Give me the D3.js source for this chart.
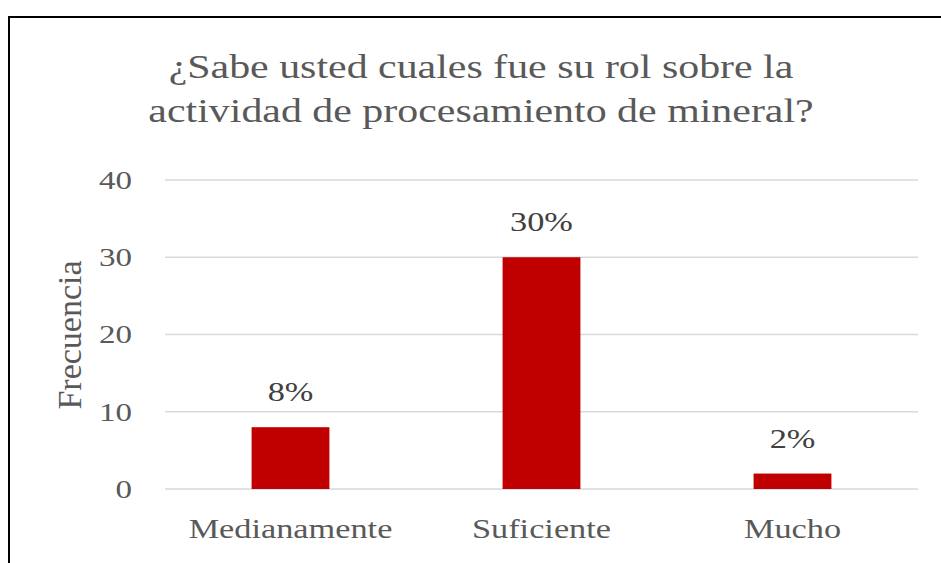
<html>
<head>
<meta charset="utf-8">
<style>
  body { margin: 0; background: #fff; }
  text { font-family: "Liberation Serif", "Times New Roman", serif; }
</style>
</head>
<body>
<svg id="chart"></svg>
<script src="https://cdn.jsdelivr.net/npm/d3@7"></script>
<script>
var categories = ["Medianamente", "Suficiente", "Mucho"];
var frecuencia = [8, 30, 2];
var etiquetas = ["8%", "30%", "2%"];
var yTicks = [0, 10, 20, 30, 40];
var titulo = ["¿Sabe usted cuales fue su rol sobre la", "actividad de procesamiento de mineral?"];

var W = 941, H = 563;
var sx = 1.27; // the source picture is stretched sideways
var margin = {top: 180, right: 23, bottom: 74, left: 165},
    width = W - margin.left - margin.right,
    height = H - margin.top - margin.bottom;

var svg = d3.select("svg#chart")
    .attr("width", W)
    .attr("height", H);

// frame (only top and left edges visible in the crop)
svg.append("rect")
    .attr("x", 9).attr("y", 17)
    .attr("width", W + 20).attr("height", H + 20)
    .attr("fill", "none")
    .attr("stroke", "#000")
    .attr("stroke-width", 2);

svg.append("g")
    .selectAll("text")
    .data(titulo)
    .enter().append("text")
    .attr("transform", function(d, i) { return "translate(481," + (78 + i * 44) + ") scale(" + sx + ",1)"; })
    .attr("text-anchor", "middle")
    .attr("font-size", 33)
    .attr("fill", "#595959")
    .text(function(d) { return d; });

var g = svg.append("g")
    .attr("transform", "translate(" + margin.left + "," + margin.top + ")");

var x = d3.scaleBand()
    .domain(categories)
    .range([0, width])
    .paddingInner(0.69)
    .paddingOuter(0.345);

var y = d3.scaleLinear()
    .domain([0, 40])
    .range([height, 0]);

// gridlines
g.append("g")
    .attr("class", "grid")
    .selectAll("line")
    .data(yTicks)
    .enter().append("line")
    .attr("x1", 0).attr("x2", width)
    .attr("y1", function(d) { return y(d); })
    .attr("y2", function(d) { return y(d); })
    .attr("stroke", "#d9d9d9")
    .attr("stroke-width", 1.5);

// y axis
var yAxis = g.append("g")
    .attr("class", "y axis")
    .call(d3.axisLeft(y).tickValues(yTicks).tickSize(0).tickPadding(33));
yAxis.select(".domain").remove();
yAxis.selectAll("text")
    .attr("transform", function() { return "translate(" + d3.select(this).attr("x") + ",0) scale(" + sx + ",1)"; })
    .attr("x", 0)
    .attr("font-family", "Liberation Serif")
    .attr("font-size", 26)
    .attr("fill", "#595959");

// x axis
var xAxis = g.append("g")
    .attr("class", "x axis")
    .attr("transform", "translate(0," + height + ")")
    .call(d3.axisBottom(x).tickSize(0).tickPadding(30));
xAxis.select(".domain").remove();
xAxis.selectAll("text")
    .attr("transform", "scale(" + sx + ",1)")
    .attr("font-family", "Liberation Serif")
    .attr("font-size", 27)
    .attr("fill", "#595959");

// y label
svg.append("text")
    .attr("transform", "translate(81,335) rotate(-90)")
    .attr("text-anchor", "middle")
    .attr("font-size", 34)
    .attr("fill", "#595959")
    .text("Frecuencia");

// bars
g.append("g")
    .attr("id", "bars")
    .selectAll("rect")
    .data(frecuencia)
    .enter().append("rect")
    .attr("x", function(d, i) { return x(categories[i]); })
    .attr("width", x.bandwidth())
    .attr("y", function(d) { return y(d); })
    .attr("height", function(d) { return y(0) - y(d); })
    .attr("fill", "#c00000");

// data labels
g.append("g")
    .selectAll("text")
    .data(frecuencia)
    .enter().append("text")
    .attr("transform", function(d, i) {
        return "translate(" + (x(categories[i]) + x.bandwidth() / 2) + "," + (y(d) - 26) + ") scale(" + sx + ",1)";
    })
    .attr("text-anchor", "middle")
    .attr("font-size", 27)
    .attr("fill", "#404040")
    .text(function(d, i) { return etiquetas[i]; });
</script>
</body>
</html>
